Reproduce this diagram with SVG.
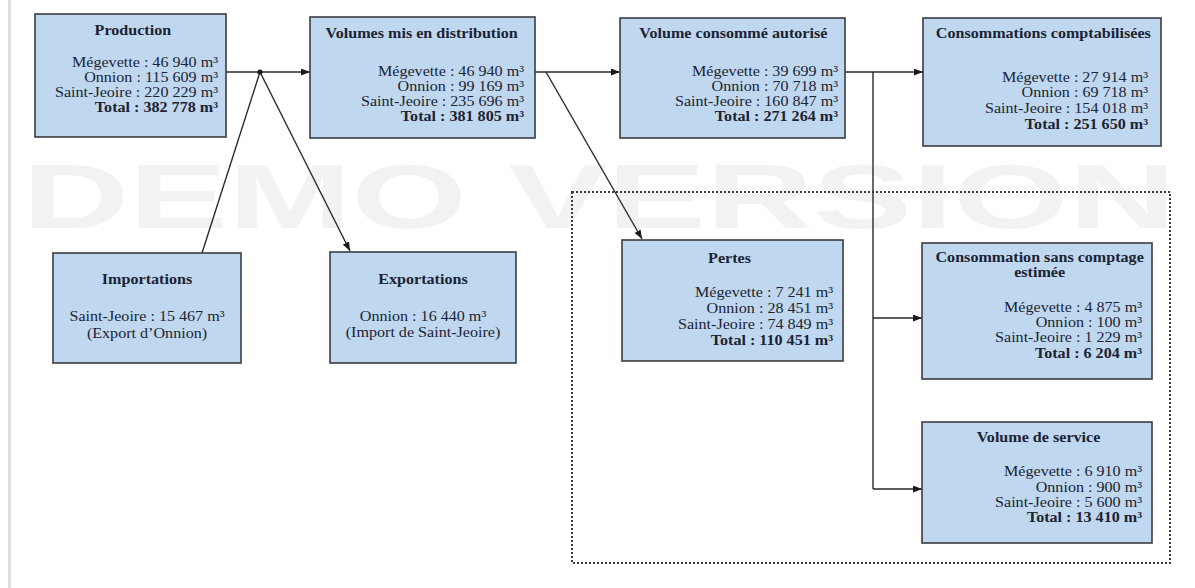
<svg xmlns="http://www.w3.org/2000/svg" width="1195" height="588" viewBox="0 0 1195 588">
  <defs>
    <marker id="arrow" markerWidth="9" markerHeight="7" refX="9" refY="3.5" orient="auto" markerUnits="userSpaceOnUse">
      <path d="M0,0 L9,3.5 L0,7 z" fill="#1a1a1a"/>
    </marker>
    <style>
      .box { fill: #bfd8ef; stroke: #3a3d42; stroke-width: 1.6; }
      .ttl { font-family: "Liberation Serif", serif; font-size: 14px; font-weight: bold; fill: #1c2333; text-anchor: middle; }
      .val { font-family: "Liberation Serif", serif; font-size: 14px; fill: #1c2333; text-anchor: end; }
      .ctr { font-family: "Liberation Serif", serif; font-size: 14px; fill: #1c2333; text-anchor: middle; }
      .tot { font-weight: bold; }
      .link { fill: none; stroke: #2a2a2a; stroke-width: 1.4; }
      .arr { marker-end: url(#arrow); }
      .mark { font-family: "Liberation Sans", sans-serif; font-size: 91px; font-weight: bold; fill: #f2f2f2; }
    </style>
  </defs>

  <rect width="1195" height="588" fill="#ffffff"/>
  <!-- page margin rule -->
  <rect x="8" y="0" width="3" height="588" fill="#dedede"/>
  <!-- background watermark, stretched wide -->
  <text class="mark" transform="translate(22 228) scale(1.63 1)" x="0" y="0">DEMO VERSION</text>

  <!-- dotted frame around losses and unmetered uses -->
  <rect x="572" y="192" width="598" height="371" fill="none" stroke="#3a3a3a" stroke-width="2" stroke-dasharray="2 2"/>

  <g id="connectors">
    <line class="link arr" x1="226" y1="72" x2="310" y2="72"/>
    <line class="link" x1="202" y1="253" x2="260" y2="72"/>
    <line class="link arr" x1="260" y1="72" x2="350" y2="251"/>
    <circle cx="260" cy="72" r="2.6" fill="#1a1a1a"/>
    <line class="link arr" x1="535" y1="72" x2="620" y2="72"/>
    <line class="link arr" x1="546" y1="72" x2="642" y2="239"/>
    <line class="link arr" x1="845" y1="72" x2="923" y2="72"/>
    <line class="link" x1="873" y1="72" x2="873" y2="489"/>
    <line class="link arr" x1="873" y1="318" x2="922" y2="318"/>
    <line class="link arr" x1="873" y1="489" x2="922" y2="489"/>
  </g>

  <g id="production">
    <rect class="box" x="35" y="14" width="191" height="123"/>
    <g transform="translate(218 0) scale(1.15 1)">
      <text class="ttl" x="-74" y="35">Production</text>
      <text class="val" x="0" y="67">Mégevette : 46 940 m³</text>
      <text class="val" x="0" y="82">Onnion : 115 609 m³</text>
      <text class="val" x="0" y="97">Saint-Jeoire : 220 229 m³</text>
      <text class="val tot" x="0" y="112">Total : 382 778 m³</text>
    </g>
  </g>

  <g id="distribution">
    <rect class="box" x="310" y="17" width="225" height="121"/>
    <g transform="translate(524 0) scale(1.15 1)">
      <text class="ttl" x="-89" y="38">Volumes mis en distribution</text>
      <text class="val" x="0" y="76">Mégevette : 46 940 m³</text>
      <text class="val" x="0" y="91">Onnion : 99 169 m³</text>
      <text class="val" x="0" y="106">Saint-Jeoire : 235 696 m³</text>
      <text class="val tot" x="0" y="121">Total : 381 805 m³</text>
    </g>
  </g>

  <g id="autorise">
    <rect class="box" x="620" y="18" width="225" height="120"/>
    <g transform="translate(838 0) scale(1.15 1)">
      <text class="ttl" x="-91" y="38">Volume consommé autorisé</text>
      <text class="val" x="0" y="76">Mégevette : 39 699 m³</text>
      <text class="val" x="0" y="91">Onnion : 70 718 m³</text>
      <text class="val" x="0" y="106">Saint-Jeoire : 160 847 m³</text>
      <text class="val tot" x="0" y="121">Total : 271 264 m³</text>
    </g>
  </g>

  <g id="comptabilisees">
    <rect class="box" x="923" y="18" width="238" height="128"/>
    <g transform="translate(1148 0) scale(1.15 1)">
      <text class="ttl" x="-91" y="38">Consommations comptabilisées</text>
      <text class="val" x="0" y="82">Mégevette : 27 914 m³</text>
      <text class="val" x="0" y="97">Onnion : 69 718 m³</text>
      <text class="val" x="0" y="113">Saint-Jeoire : 154 018 m³</text>
      <text class="val tot" x="0" y="129">Total : 251 650 m³</text>
    </g>
  </g>

  <g id="importations">
    <rect class="box" x="53" y="253" width="188" height="110"/>
    <g transform="translate(147 0) scale(1.15 1)">
      <text class="ttl" x="0" y="284">Importations</text>
      <text class="ctr" x="0" y="321">Saint-Jeoire : 15 467 m³</text>
      <text class="ctr" x="0" y="338">(Export d’Onnion)</text>
    </g>
  </g>

  <g id="exportations">
    <rect class="box" x="330" y="252" width="186" height="111"/>
    <g transform="translate(423 0) scale(1.15 1)">
      <text class="ttl" x="0" y="284">Exportations</text>
      <text class="ctr" x="0" y="321">Onnion : 16 440 m³</text>
      <text class="ctr" x="0" y="337">(Import de Saint-Jeoire)</text>
    </g>
  </g>

  <g id="pertes">
    <rect class="box" x="622" y="240" width="221" height="121"/>
    <g transform="translate(833 0) scale(1.15 1)">
      <text class="ttl" x="-90" y="263">Pertes</text>
      <text class="val" x="0" y="297">Mégevette : 7 241 m³</text>
      <text class="val" x="0" y="313">Onnion : 28 451 m³</text>
      <text class="val" x="0" y="329">Saint-Jeoire : 74 849 m³</text>
      <text class="val tot" x="0" y="345">Total : 110 451 m³</text>
    </g>
  </g>

  <g id="sans-comptage">
    <rect class="box" x="922" y="243" width="230" height="136"/>
    <g transform="translate(1142 0) scale(1.15 1)">
      <text class="ttl" x="-89" y="262">Consommation sans comptage</text>
      <text class="ttl" x="-89" y="277">estimée</text>
      <text class="val" x="0" y="312">Mégevette : 4 875 m³</text>
      <text class="val" x="0" y="327">Onnion : 100 m³</text>
      <text class="val" x="0" y="342">Saint-Jeoire : 1 229 m³</text>
      <text class="val tot" x="0" y="358">Total : 6 204 m³</text>
    </g>
  </g>

  <g id="service">
    <rect class="box" x="922" y="422" width="230" height="121"/>
    <g transform="translate(1142 0) scale(1.15 1)">
      <text class="ttl" x="-90" y="442">Volume de service</text>
      <text class="val" x="0" y="476">Mégevette : 6 910 m³</text>
      <text class="val" x="0" y="492">Onnion : 900 m³</text>
      <text class="val" x="0" y="507">Saint-Jeoire : 5 600 m³</text>
      <text class="val tot" x="0" y="522">Total : 13 410 m³</text>
    </g>
  </g>
</svg>
